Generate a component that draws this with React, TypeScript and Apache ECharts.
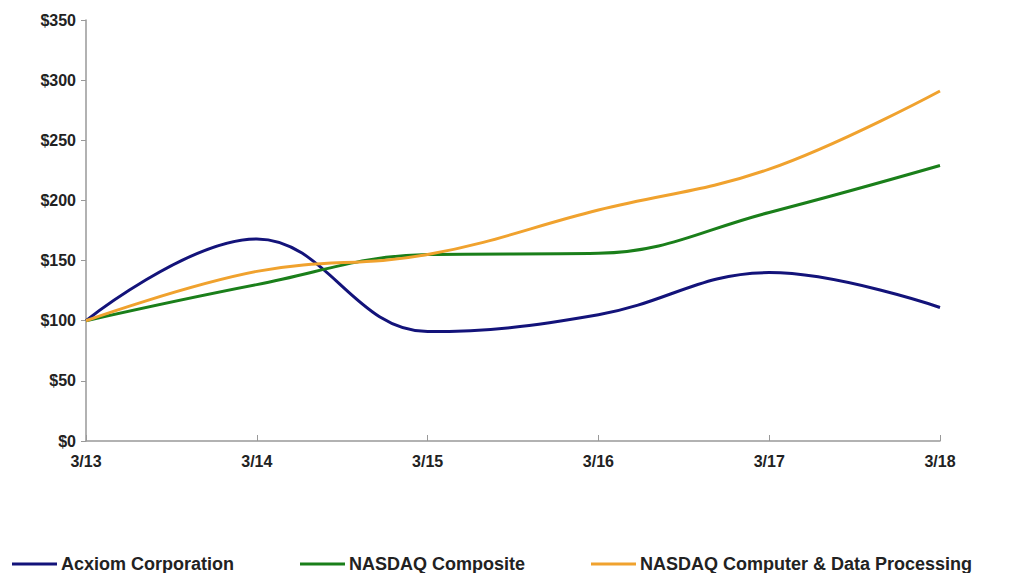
import React, { useEffect, useRef } from "react";
import * as echarts from "echarts";

const categories = ["3/13", "3/14", "3/15", "3/16", "3/17", "3/18"];
const acxiom = [100, 168, 91, 105, 140, 111];
const nasdaqComposite = [100, 130, 155, 156, 190, 229];
const nasdaqComputer = [100, 141, 155, 192, 226, 291];
const seriesNames = ["Acxiom Corporation", "NASDAQ Composite", "NASDAQ Computer & Data Processing"];
const colors = ["#13137a", "#1a7f1a", "#f0a22e"];

export default function App() {
  const ref = useRef<HTMLDivElement>(null);
  useEffect(() => {
    const chart = echarts.init(ref.current!, null, { renderer: "svg" });
    const lineSeries = [acxiom, nasdaqComposite, nasdaqComputer].map((d, i) => ({
      name: seriesNames[i],
      type: "line",
      data: d,
      smooth: 0.4,
      symbol: "none",
      lineStyle: { width: 3, color: colors[i] },
      itemStyle: { color: colors[i] },
    }));
    const legendLefts = [12, 300, 591];
    chart.setOption({
      animation: false,
      grid: { left: 86, right: 69, top: 20, bottom: 132, containLabel: false },
      legend: seriesNames.map((n, i) => ({
        data: [n],
        left: legendLefts[i],
        top: 555,
        padding: 0,
        itemWidth: 45,
        itemHeight: 18,
        itemGap: 0,
        icon: "path://M0,7.5 L45,7.5 L45,10.5 L0,10.5 Z",
        textStyle: {
          fontFamily: "Liberation Sans, Arial, sans-serif",
          fontWeight: "bold",
          fontSize: 18,
          color: "#222",
          padding: [0, 0, 0, -1],
        },
      })),
      xAxis: {
        type: "category",
        data: categories,
        boundaryGap: false,
        axisLine: { lineStyle: { color: "#999", width: 1.5 } },
        axisTick: { inside: true, length: 6, lineStyle: { color: "#999" } },
        axisLabel: {
          fontFamily: "Liberation Sans, Arial, sans-serif",
          fontWeight: "bold",
          fontSize: 16,
          color: "#222",
          margin: 12,
        },
      },
      yAxis: {
        type: "value",
        min: 0,
        max: 350,
        interval: 50,
        splitLine: { show: false },
        axisLine: { show: true, lineStyle: { color: "#999", width: 1.5 } },
        axisTick: { show: true, length: 5, lineStyle: { color: "#999" } },
        axisLabel: {
          fontFamily: "Liberation Sans Narrow, Liberation Sans, Arial, sans-serif",
          fontWeight: "bold",
          fontSize: 16,
          color: "#222",
          margin: 10,
          formatter: (v: number) => "$" + v,
        },
      },
      series: lineSeries,
    });
    return () => chart.dispose();
  }, []);
  return (
    <div
      ref={ref}
      style={{ position: "absolute", left: 0, top: 0, width: 1009, height: 573 }}
    />
  );
}
